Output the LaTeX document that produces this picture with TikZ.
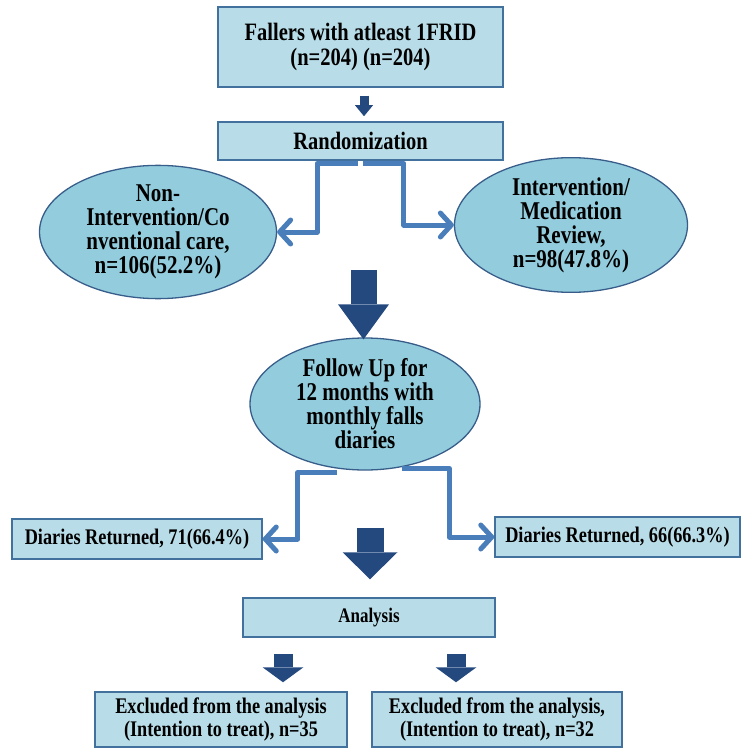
\documentclass[tikz,border=0pt]{standalone}
\usepackage{fontspec}
\setmainfont{Liberation Serif}[FakeStretch=0.82]
\definecolor{boxfill}{HTML}{B9DDE8}
\definecolor{boxline}{HTML}{41719C}
\definecolor{ovalfill}{HTML}{93CDDD}
\definecolor{ovalline}{HTML}{385D8A}
\definecolor{linkblue}{HTML}{4A7EBB}
\definecolor{navy}{HTML}{24497F}
\usetikzlibrary{shapes.geometric, arrows.meta, calc}

\begin{document}
\begin{tikzpicture}[x=1pt, y=-1pt,
  box/.style={rectangle, draw=boxline, fill=boxfill, line width=1.5pt, inner sep=0pt, align=center},
  oval/.style={ellipse, draw=ovalline, fill=ovalfill, line width=1.3pt, inner sep=0pt, align=center,
    font=\fontsize{25.6}{24}\selectfont\bfseries},
  elbow/.style={linkblue, line width=5pt, line join=round,
    -{Straight Barb[length=11pt, width=24pt, line width=5pt, round]}},
  block/.style n args={3}{navy, line width=#1, -{Triangle[width=#2, length=#3, line width=0pt]}}
]
\useasboundingbox (0,0) rectangle (742,749);

\node[box, minimum width=285, minimum height=80, font=\fontsize{25}{25}\selectfont\bfseries]
  (top) at (360.5,47) {Fallers with atleast 1FRID\\(n=204) (n=204)};
\node[box, minimum width=285, minimum height=38, font=\fontsize{25}{25}\selectfont\bfseries]
  (rand) at (360.5,141) {Randomization};
\node[oval, minimum width=237, minimum height=129] (nonint) at (158,232)
  {Non-\\Intervention/Co\\nventional care,\\n=106(52.2\%)};
\node[oval, minimum width=233, minimum height=130] (medrev) at (571,225)
  {Intervention/\\Medication\\Review,\\n=98(47.8\%)};
\node[oval, minimum width=230, minimum height=132] (fu) at (365,404)
  {Follow Up for\\12 months with\\monthly falls\\diaries};
\node[box, minimum width=250, minimum height=40, font=\fontsize{22.3}{23}\selectfont\bfseries]
  (retl) at (137,539) {Diaries Returned, 71(66.4\%)};
\node[box, minimum width=245, minimum height=40, font=\fontsize{22.3}{23}\selectfont\bfseries]
  (retr) at (617.5,537) {Diaries Returned, 66(66.3\%)};
\node[box, minimum width=252, minimum height=39, font=\fontsize{20.7}{22}\selectfont\bfseries]
  (ana) at (369,617.5) {Analysis};
\node[box, minimum width=252, minimum height=55, font=\fontsize{22.3}{23}\selectfont\bfseries]
  (excl) at (221,719.5) {Excluded from the analysis\\(Intention to treat), n=35};
\node[box, minimum width=250, minimum height=55, font=\fontsize{22.3}{23}\selectfont\bfseries]
  (excr) at (497,719.5) {Excluded from the analysis,\\(Intention to treat), n=32};

\draw[block={9pt}{18pt}{11pt}] ($(top.south)+(3.5,8)$) -- ($(rand.north)+(3.5,-5)$);
\draw[elbow] ($(rand.south)+(-3,2.5)$) -| ($(nonint.east)+(40,0)$) -- (nonint.east);
\draw[elbow] ($(rand.south)+(2,2.5)$) -| ($(medrev.west)+(-50,0)$) -- (medrev.west);
\draw[block={26pt}{51pt}{35pt}] ($(rand.south)+(3,109)$) -- ($(fu.north)+(-1.5,2)$);
\draw[elbow] ($(fu.south)+(-28,2)$) -| ($(retl.east)+(35,0)$) -- (retl.east);
\draw[elbow] ($(fu.south)+(37,-2)$) -| ($(retr.west)+(-45,0)$) -- (retr.west);
\draw[block={27pt}{55pt}{27pt}] ($(fu.south)+(5,57)$) -- ($(ana.north)+(1,-18)$);
\draw[block={19pt}{41pt}{15pt}] ($(ana.south)+(-86,16)$) -- ($(excl.north)+(62,-9)$);
\draw[block={19pt}{41pt}{15pt}] ($(ana.south)+(87,16)$) -- ($(excr.north)+(-41,-9)$);
\end{tikzpicture}
\end{document}
